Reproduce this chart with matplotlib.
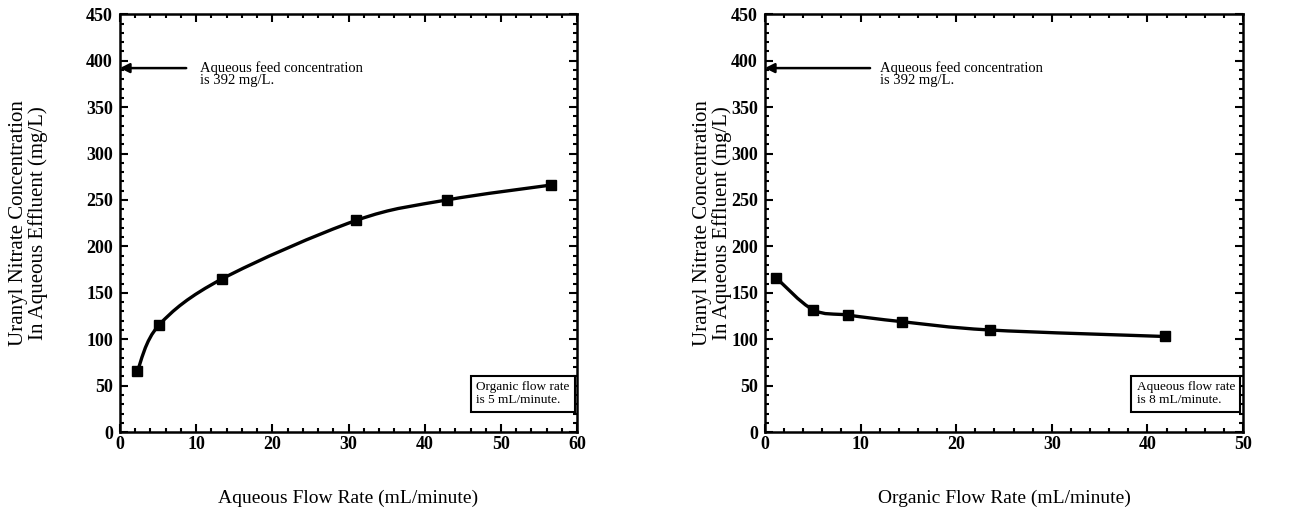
import numpy as np
import matplotlib
matplotlib.use("Agg")
import matplotlib.pyplot as plt
from matplotlib.path import Path
from matplotlib.patches import PathPatch
from matplotlib.ticker import MultipleLocator

plt.rcParams['font.family'] = ['Liberation Serif', 'DejaVu Serif']

# left panel: varying aqueous flow, organic flow fixed at 5 mL/min
aq_flow = [2.3, 5.1, 13.4, 31.0, 42.9, 56.5]
aq_conc = [66, 115, 165, 228, 250, 266]

# right panel: varying organic flow, aqueous flow fixed at 8 mL/min
org_flow = [1.2, 5.0, 8.7, 14.3, 23.5, 41.8]
org_conc = [166, 132, 126, 119, 110, 103]

feed_conc = 392
ylabel = "Uranyl Nitrate Concentration\nIn Aqueous Effluent (mg/L)"


def smooth_path(x, y):
    # catmull-rom through the points, drawn as cubic bezier segments
    x = np.asarray(x, float)
    y = np.asarray(y, float)
    pts = np.column_stack([x, y])
    verts = [pts[0]]
    codes = [Path.MOVETO]
    n = len(pts)
    for i in range(n - 1):
        p0 = pts[i - 1] if i > 0 else pts[i]
        p1 = pts[i]
        p2 = pts[i + 1]
        p3 = pts[i + 2] if i + 2 < n else pts[i + 1]
        c1 = p1 + (p2 - p0) / 6.0
        c2 = p2 - (p3 - p1) / 6.0
        verts += [c1, c2, p2]
        codes += [Path.CURVE4] * 3
    return Path(verts, codes)


def setup(ax, xmax, xlab, boxtext, ylab_x, tail, txt_x):
    ax.set_xlim(0, xmax)
    ax.set_ylim(0, 450)
    ax.xaxis.set_major_locator(MultipleLocator(10))
    ax.xaxis.set_minor_locator(MultipleLocator(2))
    ax.yaxis.set_major_locator(MultipleLocator(50))
    ax.yaxis.set_minor_locator(MultipleLocator(10))
    ax.tick_params(which='both', direction='in', top=True, right=True, width=1.5)
    ax.tick_params(which='major', length=6, labelsize=13)
    ax.tick_params(axis='x', which='major', pad=3)
    ax.tick_params(axis='y', which='major', pad=5)
    ax.tick_params(which='minor', length=3)
    for lab in ax.get_xticklabels() + ax.get_yticklabels():
        lab.set_fontweight('bold')
    for s in ax.spines.values():
        s.set_linewidth(1.8)
    ax.set_xlabel(xlab, fontsize=14, labelpad=26)
    ax.set_ylabel(ylabel, fontsize=15, va='center', linespacing=1.0)
    ax.yaxis.set_label_coords(ylab_x, 0.5)
    # arrow to the feed concentration on the y axis
    ax.annotate("", xy=(0, feed_conc), xytext=(tail, feed_conc),
                xycoords=('axes fraction', 'data'),
                textcoords=('axes fraction', 'data'),
                arrowprops=dict(arrowstyle='-|>', color='black', lw=1.8,
                                shrinkA=0, shrinkB=0, mutation_scale=14))
    ax.text(txt_x, feed_conc + 7, "Aqueous feed concentration\nis 392 mg/L.",
            transform=ax.get_yaxis_transform(), fontsize=10.5,
            va='top', ha='left', linespacing=0.9)
    ax.text(0.983, 0.062, boxtext, transform=ax.transAxes, fontsize=9.5,
            ha='right', va='bottom', multialignment='left', linespacing=1.15,
            bbox=dict(boxstyle='square,pad=0.4', fc='white', ec='black', lw=1.5))


fig = plt.figure(figsize=(13.03, 5.27), dpi=100)
ax1 = fig.add_axes([0.092, 0.180, 0.351, 0.793])
ax2 = fig.add_axes([0.587, 0.180, 0.367, 0.793])

setup(ax1, 60, "Aqueous Flow Rate (mL/minute)", "Organic flow rate\nis 5 mL/minute.",
      -0.20, 0.145, 0.175)
setup(ax2, 50, "Organic Flow Rate (mL/minute)", "Aqueous flow rate\nis 8 mL/minute.",
      -0.109, 0.22, 0.24)

for ax, xs, ys in [(ax1, aq_flow, aq_conc), (ax2, org_flow, org_conc)]:
    ax.add_patch(PathPatch(smooth_path(xs, ys), fc='none', ec='black', lw=2.4))
    ax.plot(xs, ys, 's', color='black', ms=7)

fig.savefig("out.png", dpi=100)
